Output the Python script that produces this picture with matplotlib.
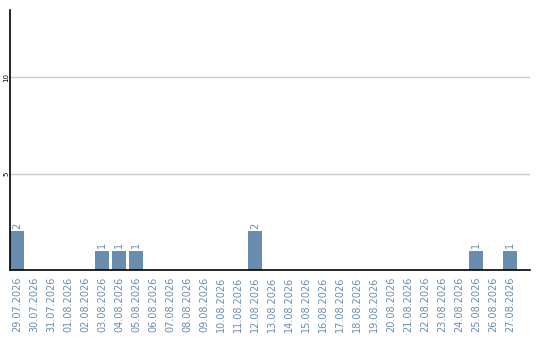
import matplotlib
matplotlib.use("Agg")
import matplotlib.pyplot as plt
import numpy as np

dates = ["29.07.2026", "30.07.2026", "31.07.2026", "01.08.2026", "02.08.2026",
         "03.08.2026", "04.08.2026", "05.08.2026", "06.08.2026", "07.08.2026",
         "08.08.2026", "09.08.2026", "10.08.2026", "11.08.2026", "12.08.2026",
         "13.08.2026", "14.08.2026", "15.08.2026", "16.08.2026", "17.08.2026",
         "18.08.2026", "19.08.2026", "20.08.2026", "21.08.2026", "22.08.2026",
         "23.08.2026", "24.08.2026", "25.08.2026", "26.08.2026", "27.08.2026"]
counts = [2, 0, 0, 0, 0, 1, 1, 1, 0, 0,
          0, 0, 0, 0, 2, 0, 0, 0, 0, 0,
          0, 0, 0, 0, 0, 0, 0, 1, 0, 1]
y_ticks = [5, 10]

bar_color = "#6a8cae"
label_color = "#6a8cae"

fig = plt.figure(figsize=(5.4, 3.4), dpi=100)
ax = fig.add_axes([10 / 540, 70 / 340, 520 / 540, 260 / 340])

x = np.arange(len(dates))
w = 0.82
ax.bar(x, counts, width=w, color=bar_color, zorder=3)

for xi, c in zip(x, counts):
    if c > 0:
        ax.annotate(str(c), (xi, c), xytext=(0, 2), textcoords="offset points",
                    ha="center", va="bottom", rotation=90, fontsize=7,
                    color=label_color)

ax.set_xlim(-w / 2, len(dates) - 1 + w / 2 + 0.76)
ax.set_ylim(0, 13.5)
ax.set_xticks(x)
ax.set_xticklabels(dates, rotation=90, fontsize=7, color=label_color)
ax.set_yticks(y_ticks)
ax.set_yticklabels([str(t) for t in y_ticks], rotation=90, fontsize=5,
                   va="center")
for lbl in ax.get_yticklabels():
    lbl.set_bbox(None)
ax.tick_params(axis="both", length=0)
ax.tick_params(axis="x", pad=5)
ax.tick_params(axis="y", pad=0.5)
ax.grid(axis="y", color="#c8c8c8", linewidth=1, zorder=0)

for s in ["top", "right"]:
    ax.spines[s].set_visible(False)
for s in ["left", "bottom"]:
    ax.spines[s].set_color("black")
    ax.spines[s].set_linewidth(1.2)
    ax.spines[s].set_zorder(4)

fig.savefig("out.png", dpi=100)
